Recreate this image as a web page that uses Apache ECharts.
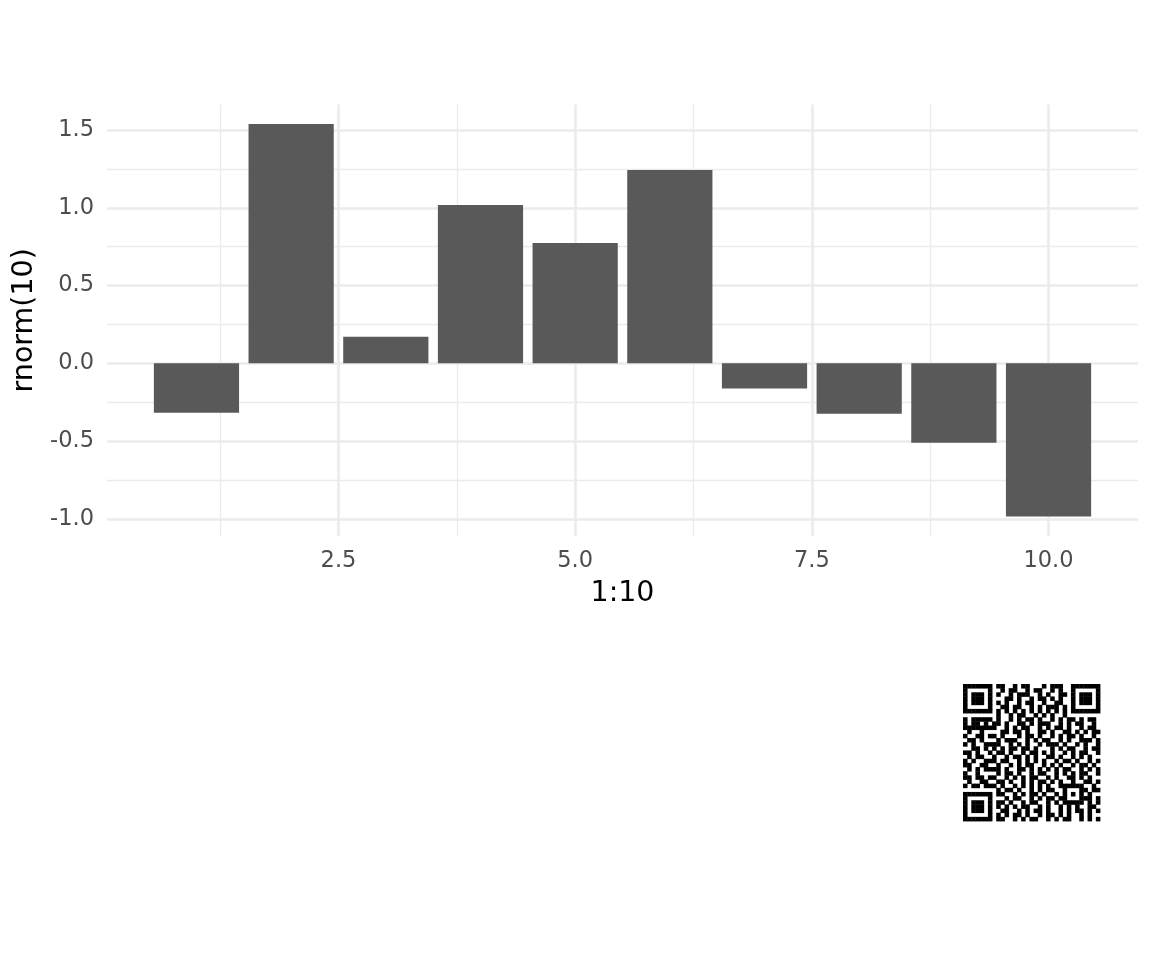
<!DOCTYPE html>
<html><head><meta charset="utf-8">
<script src="https://cdn.jsdelivr.net/npm/echarts@6/dist/echarts.min.js"></script>
<style>html,body{margin:0;padding:0;background:#fff}#c{width:1152px;height:960px}</style>
</head><body><div id="c"></div>
<script>
// ---- data ----
const xValues = [1, 2, 3, 4, 5, 6, 7, 8, 9, 10];
const yValues = [-0.318, 1.539, 0.170, 1.018, 0.774, 1.243, -0.162, -0.324, -0.511, -0.986];
const xTicks = [2.5, 5.0, 7.5, 10.0];
const xMinorTicks = [1.25, 3.75, 6.25, 8.75];
const yTicks = [-1.0, -0.5, 0.0, 0.5, 1.0, 1.5];
const yMinorTicks = [-0.75, -0.25, 0.25, 0.75, 1.25];
const xTitle = '1:10';
const yTitle = 'rnorm(10)';
const qrRows = [
  "#######." + "##..#.##...#.###." + "." + "#######",
  "#.....#." + ".#.##..#.##..#.#." + "." + "#.....#",
  "#.###.#." + "#..#.###..#.#..##" + "." + "#.###.#",
  "#.###.#." + "..##.#..#.##.#.#." + "." + "#.###.#",
  "#.###.#." + "#.#..#.##..#..##." + "." + "#.###.#",
  "#.....#." + ".##.##..#.#.###.#" + "." + "#.....#",
  "#######." + "#.#.#.#.#.#.#.#.#" + "." + "#######",
  "........" + "#..#.##..#.#.#..#" + "........",
  "#.####" + "#" + "." + "#" + "..#.#.##.#..#.#." + "##.#.##.",
  "#.##.#" + "." + "##.#..##.#.###..#.#.##..#.",
  "######" + "#" + "#..#.#.##..#.#.##.#..#.##.",
  ".#..#." + "." + "..##.##.#..##.#..##.#.#.##",
  "#..##." + "#" + "#.#...#.##.#..#.#.##.#..#.",
  ".##.#." + "." + ".#.###..#.#.##..#.#..###.#",
  "#.#..#" + "#" + "##..#.#.#..#.###.#..#.#..#",
  "..##.#" + "." + "#.#.##.##.#...#.#.##..#.##",
  "##.#.." + "#" + ".##.#..#.##.#.#..#.#.##..#",
  ".#.##." + "." + "#..#.##.#.#..##.#..#.#.#..",
  "#.#..#" + "#" + "#.##..#.#.#.#..#.##.#..#.#",
  "##..##" + "." + ".#..#.#.##..#.#.#..#.##.#.",
  ".#.#.#" + "#" + "##.#..##.#.#.#.#.##..#.#.#",
  "#..#.." + "." + ".#.##.#..#.##..#.#.#.##..#",
  "##.##." + "#" + "#..#.#.#.##..#.#..##.#.#..",
  ".#..##" + "." + ".##.#..#.#.##.#.#..#..##.#",
  "#.##.#" + "#" + "#.#..#.#.#.#.#..#" + "#####" + "..#.",
  "........" + "#" + ".##.#..#.#.##.." + "#...#" + "#.##",
  "#######." + "#" + "#..#.#.##.#..#." + "#.#.#" + ".#..",
  "#.....#." + "." + ".#.##..#.#.##.#" + "#...#" + "##.#",
  "#.###.#." + "#" + "#.#..#.##..#.#." + "#####" + ".#.#",
  "#.###.#." + "#" + ".#.#.##..#.#..#.#.#..##.",
  "#.###.#." + "." + "##..#.#.##.#..#.#.##.#.#",
  "#.....#." + "#" + ".#.##.#..#.##.#.#..#.#..",
  "#######." + "#" + "#..#.#.##..#.#.##..#.#.#"
];

// ---- build ----
const FONT = 'DejaVu Sans';
const barData = xValues.map((x, i) => [x, yValues[i]]);
const qrN = qrRows.length;
const qrData = [];
qrRows.forEach((row, r) => {
  for (let c = 0; c < row.length; c++) if (row[c] === '#') qrData.push([c, r]);
});

const chart = echarts.init(document.getElementById('c'), null, {renderer: 'canvas'});
const gridColor = '#EBEBEB';

chart.setOption({
  animation: false,
  backgroundColor: '#ffffff',
  grid: [
    {left: 107, top: 104.4, width: 1031, height: 431.8, containLabel: false},
    {left: 963, top: 684, width: 137, height: 137, containLabel: false}
  ],
  xAxis: [
    {
      gridIndex: 0, type: 'value', min: 0.055, max: 10.945,
      axisLine: {show: false},
      axisTick: {show: false, customValues: xTicks},
      axisLabel: {customValues: xTicks, formatter: v => Number(v).toFixed(1),
        color: '#4D4D4D', fontSize: 22.5, fontFamily: FONT, margin: 13},
      splitLine: {show: true, lineStyle: {color: gridColor, width: 2.6}},
      name: xTitle, nameLocation: 'middle', nameGap: 43,
      nameTextStyle: {color: '#000000', fontSize: 28.5, fontFamily: FONT}
    },
    {
      gridIndex: 0, type: 'value', min: 0.055, max: 10.945, position: 'bottom',
      axisLine: {show: false},
      axisTick: {show: false, customValues: xMinorTicks},
      axisLabel: {show: false, customValues: xMinorTicks},
      splitLine: {show: true, lineStyle: {color: gridColor, width: 1.3}}
    },
    {gridIndex: 1, type: 'value', min: 0, max: qrN, show: false}
  ],
  yAxis: [
    {
      gridIndex: 0, type: 'value', min: -1.112, max: 1.665,
      axisLine: {show: false},
      axisTick: {show: false, customValues: yTicks},
      axisLabel: {customValues: yTicks, formatter: v => Number(v).toFixed(1),
        color: '#4D4D4D', fontSize: 22.5, fontFamily: FONT, margin: 13},
      splitLine: {show: true, lineStyle: {color: gridColor, width: 2.6}},
      name: yTitle, nameLocation: 'middle', nameGap: 65, nameRotate: 90,
      nameTextStyle: {color: '#000000', fontSize: 28.5, fontFamily: FONT}
    },
    {
      gridIndex: 0, type: 'value', min: -1.112, max: 1.665, position: 'left',
      axisLine: {show: false},
      axisTick: {show: false, customValues: yMinorTicks},
      axisLabel: {show: false, customValues: yMinorTicks},
      splitLine: {show: true, lineStyle: {color: gridColor, width: 1.3}}
    },
    {gridIndex: 1, type: 'value', min: 0, max: qrN, inverse: true, show: false}
  ],
  series: [
    {
      type: 'bar', xAxisIndex: 0, yAxisIndex: 0, data: barData,
      barWidth: '90%', itemStyle: {color: '#595959'}, z: 3
    },
    {
      type: 'custom', xAxisIndex: 2, yAxisIndex: 2, data: qrData,
      renderItem: function (params, api) {
        const p = api.coord([api.value(0), api.value(1)]);
        const s = api.size([1, 1]);
        return {type: 'rect', shape: {x: p[0], y: p[1], width: s[0] + 0.4, height: s[1] + 0.4},
          style: {fill: '#000000'}};
      }
    }
  ]
});
</script>
</body></html>
